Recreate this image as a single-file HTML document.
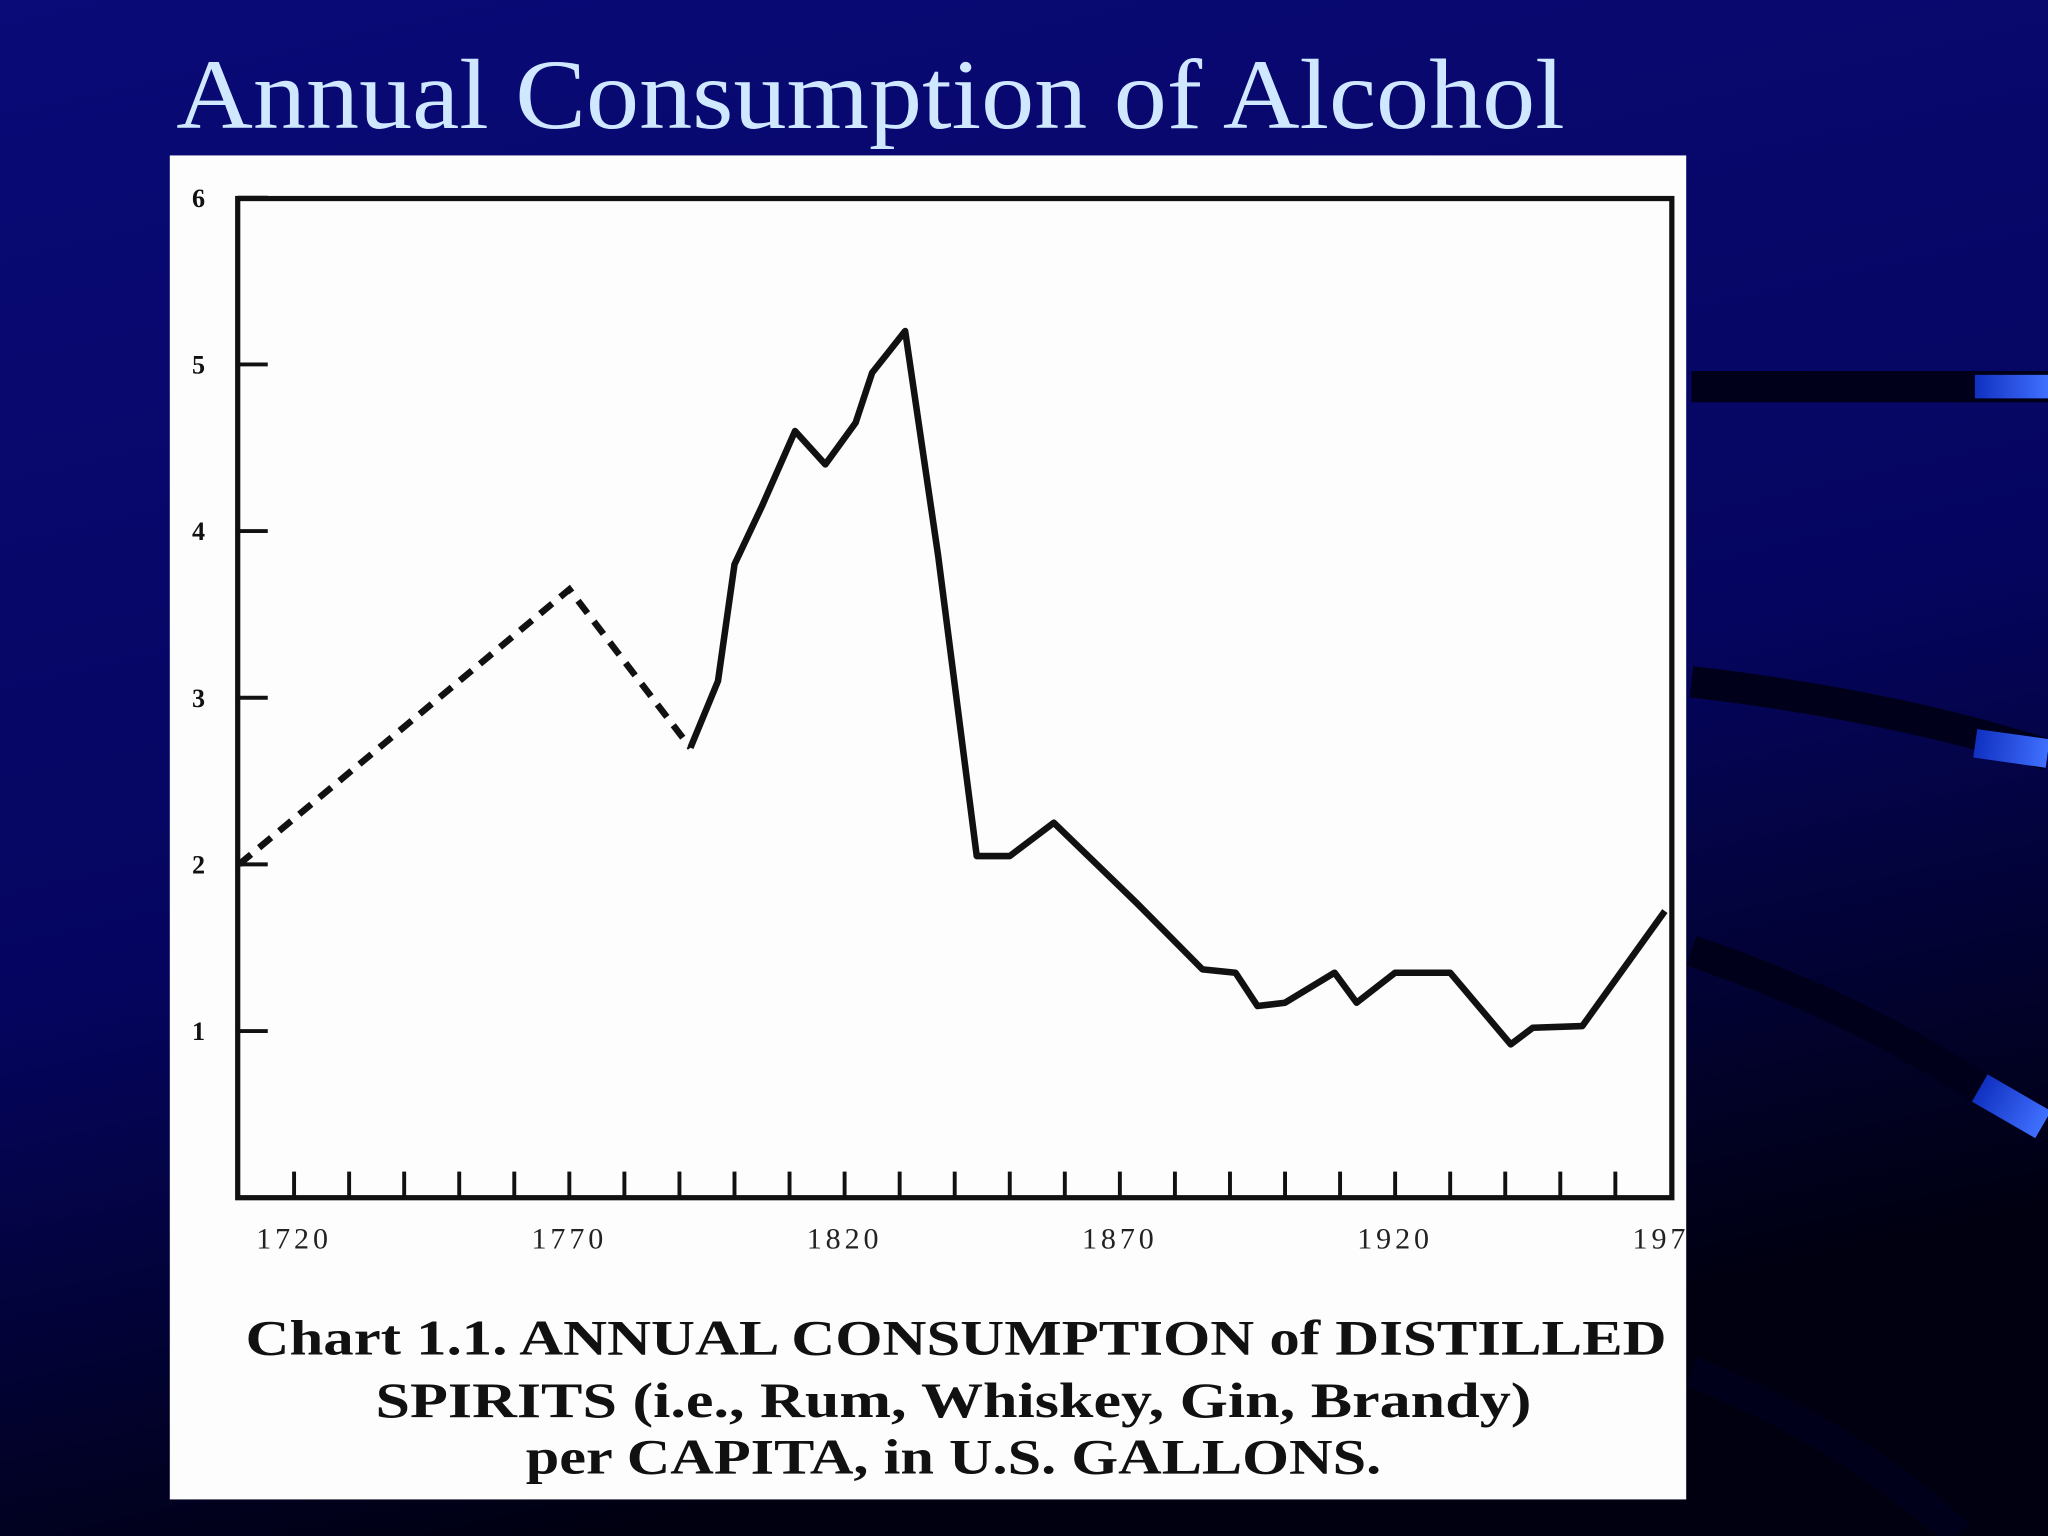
<!DOCTYPE html>
<html><head><meta charset="utf-8"><style>
html,body{margin:0;padding:0;width:2048px;height:1536px;overflow:hidden;background:#000050}
svg{display:block}
</style></head><body>
<svg width="2048" height="1536" viewBox="0 0 1568 1176" xmlns="http://www.w3.org/2000/svg">
<defs>
<linearGradient id="bg" x1="0" y1="0" x2="0.3" y2="1">
<stop offset="0" stop-color="#0a0a78"/><stop offset="0.6" stop-color="#050560"/><stop offset="1" stop-color="#000010"/>
</linearGradient>
<linearGradient id="hl" x1="0" y1="0" x2="1" y2="0"><stop offset="0" stop-color="#1030c0"/><stop offset="1" stop-color="#4070ff"/></linearGradient>
<clipPath id="panelclip"><rect x="130" y="119" width="1161" height="1029"/></clipPath>
</defs>
<rect width="1568" height="1176" fill="url(#bg)"/>
<g fill="none" stroke="#00001a" stroke-width="24">
<path d="M1295 296 L1568 296"/>
<path d="M1295 522 Q1450 540 1568 578"/>
<path d="M1295 728 Q1450 780 1568 870"/>
<path d="M1295 1050 Q1420 1100 1500 1176"/>
</g>
<g fill="url(#hl)">
<rect x="1512" y="287" width="56" height="18"/>
<rect x="1512" y="562" width="56" height="22" transform="rotate(8 1540 573)"/>
<rect x="1512" y="835" width="56" height="24" transform="rotate(30 1540 847)"/>
</g>
<text x="135" y="98" font-family="Liberation Serif, serif" font-size="76" fill="#cfe8ff" textLength="1063" lengthAdjust="spacingAndGlyphs">Annual Consumption of Alcohol</text>
<rect x="130" y="119" width="1161" height="1029" fill="#fdfdfd"/>
<rect x="182" y="152" width="1098" height="765" fill="none" stroke="#111" stroke-width="4"/>
<g id="yaxis"></g>
<g id="xaxis" clip-path="url(#panelclip)"></g>
<g id="series"></g>
<g font-family="Liberation Serif, serif" font-weight="bold" font-size="38" fill="#111" text-anchor="middle">
<text x="732" y="1037" textLength="1088" lengthAdjust="spacingAndGlyphs">Chart 1.1. ANNUAL CONSUMPTION of DISTILLED</text>
<text x="730" y="1085" textLength="885" lengthAdjust="spacingAndGlyphs">SPIRITS (i.e., Rum, Whiskey, Gin, Brandy)</text>
<text x="730" y="1128" textLength="655" lengthAdjust="spacingAndGlyphs">per CAPITA, in U.S. GALLONS.</text>
</g>
</svg>
<script>
const yTicks=[1,2,3,4,5,6];
const xLabels=[1720,1770,1820,1870,1920,1970];
const dashedYears=[1710,1770,1792];
const dashedVals=[2.0,3.65,2.7];
const solidYears=[1792,1797,1800,1805,1811,1816.5,1822,1825,1831,1837,1844,1850,1858,1873,1885,1891,1895,1900,1909,1913,1920,1930,1941,1945,1954,1969];
const solidVals=[2.7,3.1,3.8,4.15,4.6,4.4,4.65,4.95,5.2,3.85,2.05,2.05,2.25,1.77,1.37,1.35,1.15,1.17,1.35,1.17,1.35,1.35,0.92,1.02,1.03,1.72];
const NS='http://www.w3.org/2000/svg';
const X=yr=>183+(yr-1710)*4.215;
const Y=v=>917-v*127.6;
function mk(t,a,p){const e=document.createElementNS(NS,t);for(const k in a)e.setAttribute(k,a[k]);p.appendChild(e);return e;}
const ya=document.getElementById('yaxis'),xa=document.getElementById('xaxis'),se=document.getElementById('series');
yTicks.forEach(v=>{
 const l=mk('line',{x1:182,x2:205,y1:Y(v),y2:Y(v),stroke:'#111','stroke-width':3},ya);
 
 
 const t=mk('text',{x:152,y:Y(v)+7,'font-family':'Liberation Serif, serif','font-weight':'bold','font-size':20,fill:'#111','text-anchor':'middle'},ya);
 
 
 t.textContent=v;
});
for(let yr=1720;yr<=1960;yr+=10){
 const l=mk('line',{x1:X(yr),x2:X(yr),y1:917,y2:897,stroke:'#111','stroke-width':3},xa);
 
 
}
xLabels.forEach(yr=>{
 const t=mk('text',{x:X(yr),y:956,'font-family':'Liberation Serif, serif','font-size':23,fill:'#222','text-anchor':'middle','letter-spacing':3},xa);
 
 
 t.textContent=yr;
});
const pts=(ys,vs)=>ys.map((y,i)=>X(y)+','+Y(vs[i])).join(' ');
const d=mk('polyline',{points:pts(dashedYears,dashedVals),fill:'none',stroke:'#111','stroke-width':5,'stroke-dasharray':'12 8'},se);


const s=mk('polyline',{points:pts(solidYears,solidVals),fill:'none',stroke:'#111','stroke-width':5,'stroke-linejoin':'round'},se);


</script>
</body></html>
